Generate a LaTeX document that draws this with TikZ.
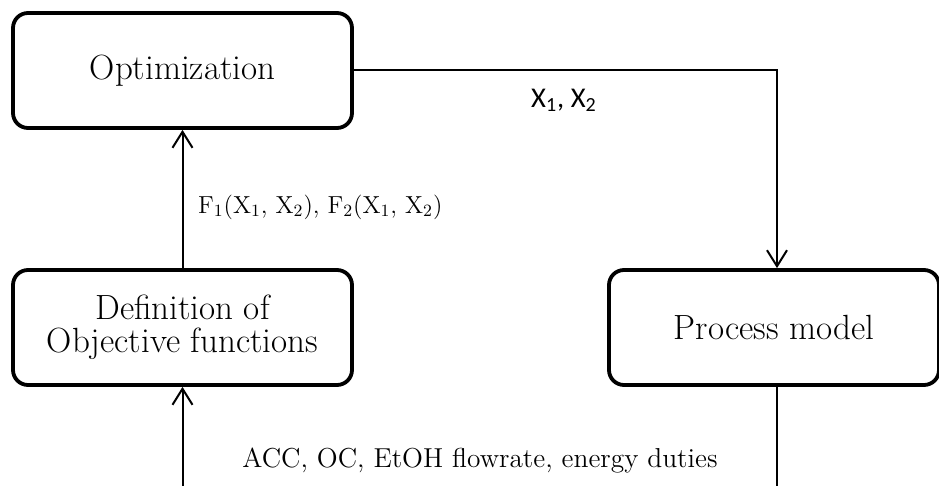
\documentclass[tikz,border=0pt]{standalone}
\usepackage{fontspec}
\newfontfamily\labelfont{Carlito}
\usetikzlibrary{arrows.meta}
\begin{document}
\begin{tikzpicture}[x=0.5pt,y=-0.5pt,
	stepbox/.style={draw,line width=1.9pt,rounded corners=7.5pt,minimum width=169.5pt,minimum height=57.5pt,align=center,font=\fontsize{17.5}{16.5}\selectfont},
	flow/.style={line width=1pt,-{Straight Barb[length=8pt,width=10pt]}},
	flowlabel/.style={font=\fontsize{13.7}{13}\selectfont}]
	\useasboundingbox (0,0) rectangle (939,486);
	\clip (0,0) rectangle (939,486);
	%boxes
	\node[stepbox] (opt) at (182.5,70.5) {Optimization};
	\node[stepbox] (def) at (182.5,327.5) {Definition of\\Objective functions};
	\node[stepbox,minimum width=165pt] (proc) at (774,327.5) {Process model};
	%connectors
	\coordinate (turn) at (777,70.5);
	\coordinate (outP) at (777,490);
	\coordinate (inD) at (182.5,490);
	\draw[flow] (opt.east) -- (turn) -- (turn |- proc.north);
	\draw[flow] (def.north) -- (opt.south);
	\draw[line width=1pt] (turn |- proc.south) -- (outP);
	\draw[flow] (inD) -- (def.south);
	%labels
	\node[font=\labelfont\fontsize{14.3}{14}\selectfont] (xlab) at (564,100) {X\textsubscript{1}, X\textsubscript{2}};
	\node[anchor=west,font=\fontsize{12.3}{12}\selectfont] (flab) at (191,207) {F\textsubscript{1}(X\textsubscript{1}, X\textsubscript{2}), F\textsubscript{2}(X\textsubscript{1}, X\textsubscript{2})};
	\node[flowlabel] (alab) at (480,461) {ACC, OC, EtOH flowrate, energy duties};
\end{tikzpicture}
\end{document}
